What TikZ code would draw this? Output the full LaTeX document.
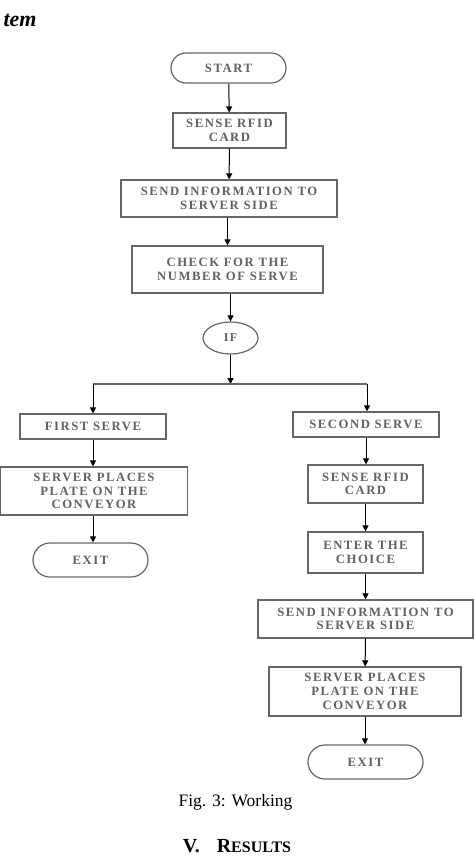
\documentclass[tikz,border=0pt]{standalone}
\usepackage{fontspec}
\setmainfont{Liberation Serif}
\newfontfamily\boxfont[LetterSpace=12]{Liberation Serif}
\usetikzlibrary{shapes.geometric,arrows.meta}
\begin{document}
\begin{tikzpicture}[x=1pt,y=-1pt,
  box/.style={draw=black!60,line width=1.2pt,text=black!62,align=center,font=\boxfont\bfseries\fontsize{12.7}{13.7}\selectfont,inner sep=0pt},
  term/.style={box,rounded corners=15pt},
  arr/.style={-{Triangle[length=6pt,width=6pt]},line width=1pt},
  ln/.style={line width=1.2pt,draw=black!60}]
\useasboundingbox (0,0) rectangle (474,856);
\node[anchor=base west,font=\bfseries\itshape\fontsize{22}{24}\selectfont] (hd) at (0,27) {tem};
\node[term,minimum width=115pt,minimum height=30pt] (start) at (228.5,68) {START};
\node[box,minimum width=113pt,minimum height=35pt] (s1) at (229.5,130.5) {SENSE RFID\\CARD};
\node[box,minimum width=216pt,minimum height=37pt] (s2) at (229,198.5) {SEND INFORMATION TO\\SERVER SIDE};
\node[box,minimum width=191pt,minimum height=47pt] (s3) at (227.5,269.5) {CHECK FOR THE\\NUMBER OF SERVE};
\node[ellipse,draw=black!60,line width=1.2pt,text=black!62,font=\boxfont\bfseries\fontsize{12}{13}\selectfont,minimum width=55pt,minimum height=32pt,inner sep=0pt] (if) at (230.5,338) {IF};
\coordinate (j) at (230.5,384);
\coordinate (jl) at (93,384);
\coordinate (jr) at (367,384);
\node[box,minimum width=146pt,minimum height=25pt] (f1) at (93,426.5) {FIRST SERVE};
\node[box,minimum width=187pt,minimum height=48pt] (f2) at (94,491) {SERVER PLACES\\PLATE ON THE\\CONVEYOR};
\node[term,minimum width=115pt,minimum height=34pt,rounded corners=17pt] (e1) at (90.5,560) {EXIT};
\node[box,minimum width=146pt,minimum height=25pt] (r1) at (366,424.5) {SECOND SERVE};
\node[box,minimum width=115pt,minimum height=38pt] (r2) at (365.5,484) {SENSE RFID\\CARD};
\node[box,minimum width=115pt,minimum height=41pt] (r3) at (365.5,552.5) {ENTER THE\\CHOICE};
\node[box,minimum width=215pt,minimum height=38pt] (r4) at (365.5,619) {SEND INFORMATION TO\\SERVER SIDE};
\node[box,minimum width=192pt,minimum height=49pt] (r5) at (365,691.5) {SERVER PLACES\\PLATE ON THE\\CONVEYOR};
\node[term,minimum width=115pt,minimum height=34pt,rounded corners=17pt] (e2) at (365.5,762) {EXIT};
\node[anchor=base,font=\fontsize{17.5}{20}\selectfont] (cap) at (235.5,806) {Fig. 3: Working};
\node[anchor=base,font=\bfseries\fontsize{20}{22}\selectfont] (res) at (237,852) {V.\hspace{17pt}R{\fontsize{16}{18}\selectfont ESULTS}};
\draw[arr] (start) -- (s1);
\draw[arr] (s1) -- (s2);
\draw[arr] (s2.south -| s3.north) -- (s3);
\draw[arr] (s3.south -| if.north) -- (if);
\draw[arr] (if) -- (j);
\draw[ln] (jl) -- (jr);
\draw[arr] (jl) -- (f1.north -| jl);
\draw[arr] (jr) -- (r1.north -| jr);
\draw[arr] (f1) -- (f1 |- f2.north);
\draw[arr] (f1.south |- f2.south) -- (f1 |- e1.north);
\draw[arr] (r1) -- (r1 |- r2.north);
\draw[arr] (r2) -- (r3);
\draw[arr] (r3) -- (r4);
\draw[arr] (r4) -- (r5);
\draw[arr] (r5) -- (r5 |- e2.north);
\end{tikzpicture}
\end{document}
